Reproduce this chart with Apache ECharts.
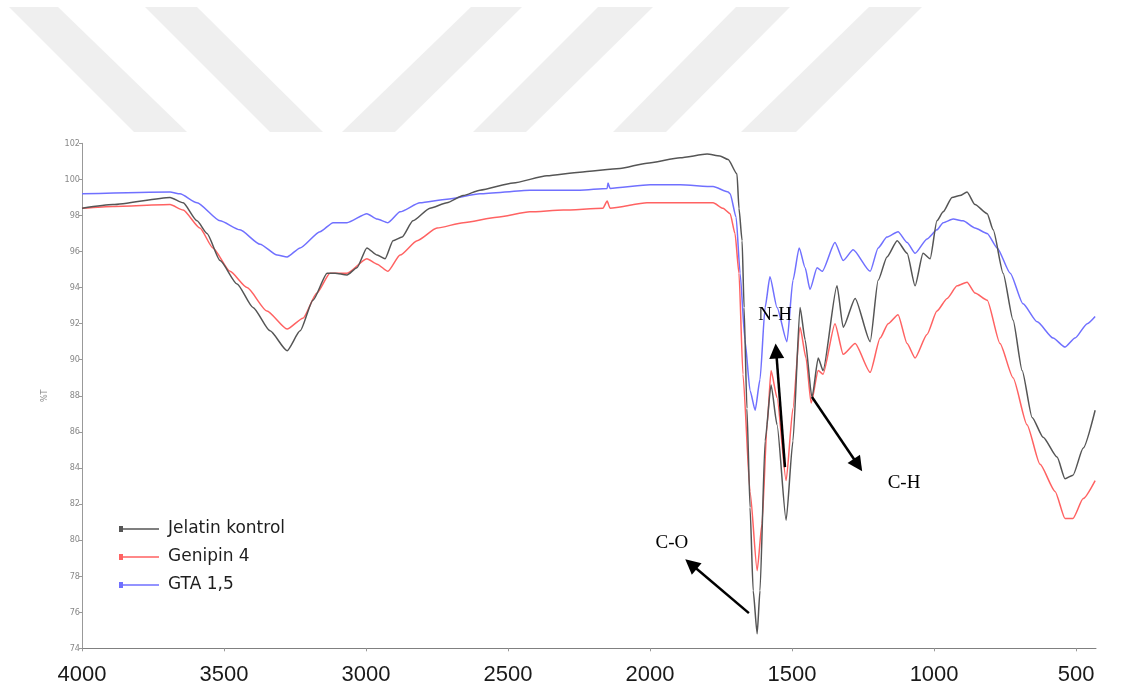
<!DOCTYPE html>
<html>
<head>
<meta charset="utf-8">
<title>FTIR</title>
<script src="https://cdn.jsdelivr.net/npm/echarts@6/dist/echarts.min.js"></script>
<style>
  html, body { margin: 0; padding: 0; background: #fff; }
  #chart { width: 1137px; height: 692px; }
</style>
</head>
<body>
<div id="chart"></div>
<script>
// FTIR spectra, wavenumber (cm-1) vs transmittance (%T)

const seriesNames = ['Jelatin kontrol', 'Genipin 4', 'GTA 1,5'];

const jelatinWn = [4000, 3891, 3690, 3644, 3595, 3560, 3514, 3454, 3398, 3338, 3278, 3232, 3187, 3137, 3109, 3067, 3032, 2997, 2961, 2933, 2905, 2873, 2835, 2775, 2715, 2658, 2599, 2482, 2363, 2247, 2106, 2011, 1894, 1799, 1754, 1725, 1694, 1687, 1676, 1669, 1659, 1648, 1637, 1623, 1613, 1595, 1574, 1553, 1521, 1497, 1472, 1454, 1430, 1408, 1391, 1342, 1320, 1278, 1225, 1197, 1166, 1130, 1095, 1067, 1039, 1014, 990, 968, 937, 909, 884, 856, 813, 792, 757, 722, 690, 655, 616, 567, 539, 511, 475, 433];
const jelatinT = [98.4, 98.6, 99.0, 98.7, 97.7, 97.0, 95.5, 94.2, 92.9, 91.6, 90.5, 91.6, 93.3, 94.8, 94.8, 94.7, 95.1, 96.2, 95.8, 95.6, 96.6, 96.8, 97.7, 98.4, 98.7, 99.1, 99.4, 99.8, 100.2, 100.4, 100.6, 100.9, 101.2, 101.4, 101.3, 101.1, 100.3, 98.4, 96.6, 92.9, 87.3, 81.8, 77.2, 74.8, 77.2, 85.5, 88.6, 86.4, 81.1, 85.5, 92.9, 91.1, 87.9, 90.1, 89.4, 94.1, 91.8, 93.4, 91.0, 94.4, 95.7, 96.6, 95.9, 94.1, 95.9, 95.6, 97.7, 98.2, 99.0, 99.1, 99.3, 98.6, 98.1, 97.2, 94.8, 92.2, 89.4, 86.8, 85.7, 84.6, 83.4, 83.6, 85.1, 87.2];

const genipinWn = [4000, 3891, 3690, 3644, 3585, 3539, 3479, 3419, 3349, 3278, 3222, 3173, 3127, 3099, 3067, 2997, 2961, 2923, 2880, 2820, 2750, 2658, 2539, 2423, 2306, 2166, 2151, 2141, 2011, 1894, 1778, 1743, 1718, 1701, 1687, 1673, 1648, 1623, 1606, 1588, 1574, 1553, 1521, 1497, 1472, 1451, 1433, 1408, 1391, 1349, 1320, 1278, 1225, 1190, 1162, 1127, 1095, 1067, 1025, 990, 954, 919, 884, 856, 813, 768, 722, 673, 627, 574, 539, 511, 475, 433];
const genipinT = [98.4, 98.5, 98.6, 98.3, 97.3, 96.2, 94.9, 94.0, 92.7, 91.7, 92.3, 93.7, 94.8, 94.8, 94.8, 95.6, 95.3, 94.9, 95.8, 96.6, 97.3, 97.6, 97.9, 98.2, 98.3, 98.4, 98.8, 98.4, 98.7, 98.7, 98.7, 98.4, 98.1, 97.0, 94.8, 89.2, 82.7, 78.3, 80.9, 86.4, 89.4, 87.9, 83.3, 87.3, 91.8, 90.1, 87.6, 89.4, 89.2, 92.0, 90.3, 90.9, 89.3, 91.2, 92.0, 92.5, 90.9, 90.1, 91.4, 92.7, 93.4, 94.1, 94.3, 93.7, 93.3, 90.9, 89.0, 86.4, 84.2, 82.7, 81.2, 81.2, 82.3, 83.3];

const gtaWn = [4000, 3690, 3655, 3595, 3514, 3444, 3373, 3313, 3278, 3232, 3162, 3116, 3092, 3067, 2997, 2961, 2923, 2880, 2810, 2715, 2599, 2423, 2247, 2151, 2148, 2141, 2000, 1894, 1778, 1725, 1718, 1697, 1683, 1666, 1648, 1630, 1613, 1595, 1578, 1553, 1518, 1497, 1475, 1454, 1437, 1412, 1394, 1349, 1320, 1285, 1225, 1197, 1166, 1127, 1095, 1067, 1025, 990, 968, 933, 898, 856, 813, 778, 732, 687, 637, 581, 539, 504, 461, 433];
const gtaT = [99.2, 99.3, 99.2, 98.7, 97.7, 97.2, 96.4, 95.8, 95.7, 96.2, 97.1, 97.6, 97.6, 97.6, 98.1, 97.8, 97.6, 98.2, 98.7, 98.9, 99.2, 99.4, 99.4, 99.5, 99.8, 99.5, 99.7, 99.7, 99.6, 99.3, 99.2, 97.9, 94.8, 91.1, 88.3, 87.2, 88.9, 92.9, 94.6, 92.9, 91.0, 94.4, 96.2, 95.1, 93.9, 95.1, 94.9, 96.5, 95.5, 96.1, 94.9, 96.2, 96.8, 97.1, 96.5, 95.9, 96.7, 97.2, 97.6, 97.8, 97.7, 97.3, 97.0, 96.2, 94.8, 93.1, 92.1, 91.2, 90.7, 91.2, 92.0, 92.4];

const xTicks = [4000, 3500, 3000, 2500, 2000, 1500, 1000, 500];

// band assignments: label text, label point, arrow start, arrow end
const bandLabels = ['C-O', 'N-H', 'C-H'];
const bandLabelAt = [[1923, 79.83], [1560, 92.48], [1106, 83.16]];
const arrowFrom = [[1652, 75.95], [1525, 84.05], [1430, 87.93]];
const arrowTo = [[1856, 78.67], [1556, 90.48], [1268, 84.16]];

const colors = ['#555555', '#ff6262', '#7070ff'];

function pairs(wn, t) {
  return wn.map((w, i) => [w, t[i]]);
}

// faint diagonal stripes behind the plot
const stripes = [
  [[9, 7], [58, 7], [187, 132], [134, 132]],
  [[145, 7], [197, 7], [323, 132], [270, 132]],
  [[471, 7], [522, 7], [395, 132], [342, 132]],
  [[598, 7], [653, 7], [526, 132], [473, 132]],
  [[736, 7], [790, 7], [666, 132], [613, 132]],
  [[869, 7], [922, 7], [796, 132], [741, 132]]
];

const chart = echarts.init(document.getElementById('chart'), null, { renderer: 'canvas' });

const lineBase = {
  type: 'line',
  showSymbol: false,
  smooth: 0.2,
  smoothMonotone: 'x',
  animation: false,
  silent: true
};

chart.setOption({
  backgroundColor: '#ffffff',
  animation: false,
  graphic: stripes.map(p => ({
    type: 'polygon',
    z: -10,
    silent: true,
    shape: { points: p },
    style: { fill: '#efefef' }
  })),
  grid: {
    left: 82,
    right: 41,
    top: 143.3,
    bottom: 43.7,
    containLabel: false,
    outerBoundsMode: 'none'
  },
  legend: {
    orient: 'vertical',
    left: 114,
    top: 515,
    itemWidth: 40,
    itemHeight: 8,
    itemGap: 10,
    icon: 'path://M0,1h4v6h-4z M4,3.25h36v1.5h-36z',
    textStyle: {
      fontFamily: 'DejaVu Sans',
      fontSize: 17,
      color: '#1e1e1e',
      lineHeight: 18,
      padding: [0, 0, 0, 4]
    },
    selectedMode: false,
    data: seriesNames
  },
  xAxis: {
    type: 'value',
    inverse: true,
    min: 430,
    max: 4000,
    axisLine: { show: true, onZero: false, lineStyle: { color: '#808080', width: 1 } },
    axisTick: { show: true, length: 3, customValues: xTicks, lineStyle: { color: '#999' } },
    axisLabel: {
      customValues: xTicks,
      formatter: v => String(v),
      fontFamily: 'Liberation Sans',
      fontSize: 22,
      color: '#1a1a1a',
      margin: 16
    },
    splitLine: { show: false }
  },
  yAxis: {
    type: 'value',
    min: 74,
    max: 102,
    interval: 2,
    name: '%T',
    nameLocation: 'middle',
    nameGap: 33,
    nameRotate: 90,
    nameTextStyle: { fontSize: 9, color: '#888', fontFamily: 'DejaVu Sans Condensed' },
    axisLine: { show: true, lineStyle: { color: '#999', width: 1 } },
    axisTick: { show: true, length: 3, lineStyle: { color: '#999' } },
    axisLabel: { fontSize: 9, color: '#888', margin: 2, fontFamily: 'DejaVu Sans Condensed' },
    splitLine: { show: false }
  },
  series: [
    Object.assign({}, lineBase, {
      name: seriesNames[0],
      color: colors[0],
      lineStyle: { width: 1.5, color: colors[0] },
      data: pairs(jelatinWn, jelatinT),
      z: 4,
      markLine: {
        silent: true,
        animation: false,
        symbol: ['none', 'triangle'],
        symbolSize: 15,
        label: { show: false },
        lineStyle: { color: '#000', width: 2.5, type: 'solid' },
        itemStyle: { color: '#000' },
        emphasis: { disabled: true },
        data: arrowFrom.map((a, i) => [{ coord: a }, { coord: arrowTo[i] }])
      },
      markPoint: {
        silent: true,
        animation: false,
        symbol: 'circle',
        symbolSize: 0,
        label: {
          show: true,
          position: 'inside',
          formatter: '{b}',
          fontFamily: 'Liberation Serif',
          fontSize: 19,
          color: '#000'
        },
        data: bandLabels.map((t, i) => ({ name: t, coord: bandLabelAt[i] }))
      }
    }),
    Object.assign({}, lineBase, {
      name: seriesNames[1],
      color: colors[1],
      lineStyle: { width: 1.5, color: colors[1] },
      data: pairs(genipinWn, genipinT),
      z: 3
    }),
    Object.assign({}, lineBase, {
      name: seriesNames[2],
      color: colors[2],
      lineStyle: { width: 1.5, color: colors[2] },
      data: pairs(gtaWn, gtaT),
      z: 2
    })
  ]
});
</script>
</body>
</html>
